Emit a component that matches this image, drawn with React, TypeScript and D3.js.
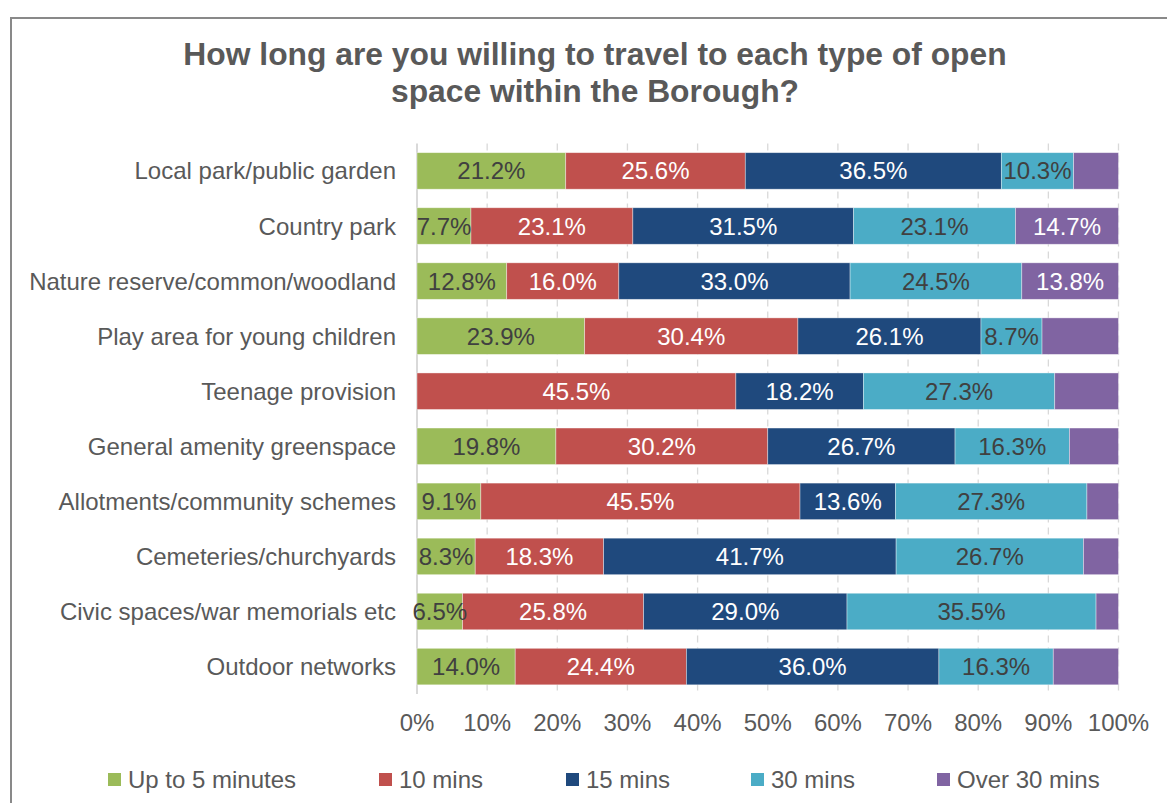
import React from "react";
import * as d3 from "d3";

// categories, top to bottom
const categories = [
  "Local park/public garden",
  "Country park",
  "Nature reserve/common/woodland",
  "Play area for young children",
  "Teenage provision",
  "General amenity greenspace",
  "Allotments/community schemes",
  "Cemeteries/churchyards",
  "Civic spaces/war memorials etc",
  "Outdoor networks",
];

// percentage of respondents per travel time
const upTo5 = [21.2, 7.7, 12.8, 23.9, 0, 19.8, 9.1, 8.3, 6.5, 14.0];
const mins10 = [25.6, 23.1, 16.0, 30.4, 45.5, 30.2, 45.5, 18.3, 25.8, 24.4];
const mins15 = [36.5, 31.5, 33.0, 26.1, 18.2, 26.7, 13.6, 41.7, 29.0, 36.0];
const mins30 = [10.3, 23.1, 24.5, 8.7, 27.3, 16.3, 27.3, 26.7, 35.5, 16.3];
const over30 = [6.4, 14.7, 13.8, 10.9, 9.1, 7.0, 4.5, 5.0, 3.2, 9.3];

const ticks = [0, 10, 20, 30, 40, 50, 60, 70, 80, 90, 100];

const series = [
  { key: "up5", label: "Up to 5 minutes", values: upTo5, color: "#9BBB59", text: "#404040", minLabel: 1 },
  { key: "m10", label: "10 mins", values: mins10, color: "#C0504D", text: "#FFFFFF", minLabel: 1 },
  { key: "m15", label: "15 mins", values: mins15, color: "#1F497D", text: "#FFFFFF", minLabel: 1 },
  { key: "m30", label: "30 mins", values: mins30, color: "#4BACC6", text: "#404040", minLabel: 1 },
  { key: "o30", label: "Over 30 mins", values: over30, color: "#8064A2", text: "#FFFFFF", minLabel: 12 },
];

const FONT = "'Liberation Sans', Arial, sans-serif";
const W = 1167;
const H = 803;
const FS = 24;

export default function App() {
  const x = d3.scaleLinear().domain([0, 100]).range([417, 1118.5]);
  const y = d3
    .scaleBand<string>()
    .domain(categories)
    .range([143.4, 694.1])
    .paddingInner(0.337)
    .paddingOuter(0.1685);

  // stack rows, normalised to 100%
  const rows = categories.map((cat, i) => {
    const total = d3.sum(series, (s) => s.values[i]);
    let acc = 0;
    const segs = series.map((s) => {
      const v = s.values[i];
      const x0 = (acc / total) * 100;
      acc += v;
      const x1 = (acc / total) * 100;
      return { s, v, x0, x1 };
    });
    return { cat, segs };
  });

  const bw = y.bandwidth();
  const legendX = [108, 379, 566, 751, 937];

  return (
    <div style={{ position: "fixed", left: 0, top: 0, width: W, height: H, overflow: "hidden", background: "#fff" }}>
      <svg width={W} height={H} style={{ display: "block", fontFamily: FONT }}>
        <rect x={11} y={18} width={W + 20} height={H + 20} fill="#fff" stroke="#898989" strokeWidth={2} />

        <text x={595} y={65} textAnchor="middle" fontSize={31.8} fontWeight="bold" fill="#595959">
          How long are you willing to travel to each type of open
        </text>
        <text x={595} y={102} textAnchor="middle" fontSize={31.8} fontWeight="bold" fill="#595959">
          space within the Borough?
        </text>

        {/* gridlines */}
        {ticks.slice(1).map((t) => (
          <line
            key={t}
            x1={x(t)}
            x2={x(t)}
            y1={143.4}
            y2={694.1}
            stroke="#D9D9D9"
            strokeWidth={1.3}
            strokeDasharray="7,5"
          />
        ))}
        <line x1={x(0)} x2={x(0)} y1={143.4} y2={694.1} stroke="#D9D9D9" strokeWidth={2} />

        {rows.map((r) => {
          const y0 = y(r.cat) as number;
          const cy = y0 + bw / 2;
          return (
            <g key={r.cat}>
              <text x={396} y={cy + 8.5} textAnchor="end" fontSize={FS} fill="#595959">
                {r.cat}
              </text>
              {r.segs.map((g) => (
                <rect
                  key={g.s.key}
                  x={x(g.x0)}
                  y={y0}
                  width={Math.max(0, x(g.x1) - x(g.x0))}
                  height={bw}
                  fill={g.s.color}
                  stroke="#ffffff"
                  strokeOpacity={0.5}
                  strokeWidth={g.v > 0 ? 0.75 : 0}
                />
              ))}
              {r.segs
                .filter((g) => g.v >= g.s.minLabel)
                .map((g) => (
                  <text
                    key={g.s.key + "l"}
                    x={(x(g.x0) + x(g.x1)) / 2}
                    y={cy + 8.5}
                    textAnchor="middle"
                    fontSize={FS}
                    fill={g.s.text}
                  >
                    {g.v.toFixed(1) + "%"}
                  </text>
                ))}
            </g>
          );
        })}

        {ticks.map((t) => (
          <text key={t} x={x(t)} y={731} textAnchor="middle" fontSize={FS} fill="#595959">
            {t + "%"}
          </text>
        ))}

        {series.map((s, i) => (
          <g key={s.key} transform={`translate(${legendX[i]},0)`}>
            <rect x={0} y={773} width={13} height={13} fill={s.color} />
            <text x={20} y={787.5} fontSize={FS} fill="#595959">
              {s.label}
            </text>
          </g>
        ))}
      </svg>
    </div>
  );
}
